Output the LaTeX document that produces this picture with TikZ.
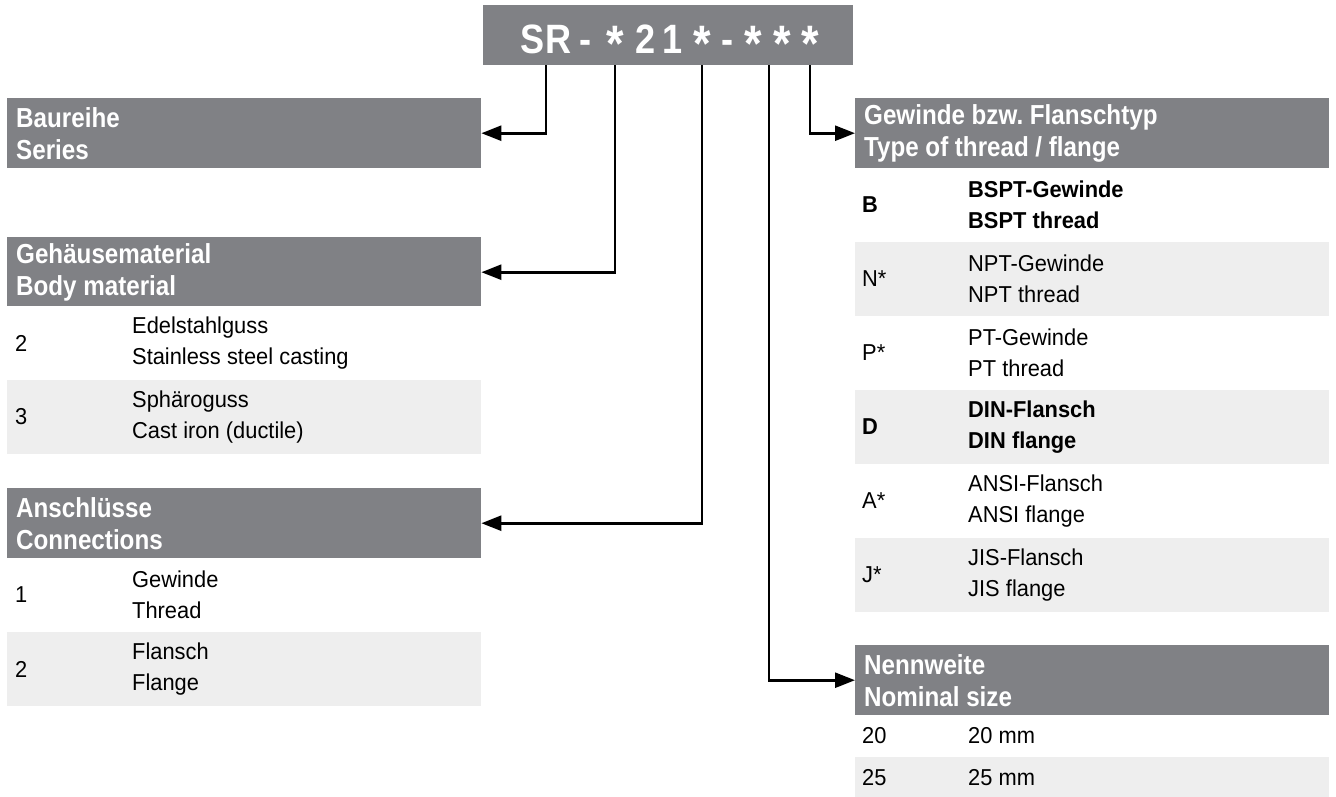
\documentclass[tikz,border=0pt]{standalone}
\usepackage{fontspec}
\setmainfont{Liberation Sans}[FakeStretch=0.95]
\newfontfamily\hdfamily{Liberation Sans}[FakeStretch=0.88]
\usepackage{tikz}
\usepackage{xcolor}
\usetikzlibrary{arrows.meta}
\definecolor{hdgray}{RGB}{128,129,133}
\definecolor{rowgray}{RGB}{238,238,238}
\newcommand{\bodysize}{\fontsize{23}{31}\selectfont}
\newcommand{\hdsize}{\hdfamily\bfseries\fontsize{27.5}{32}\selectfont}
\newcommand{\codesize}{\hdfamily\bfseries\fontsize{41}{41}\selectfont}
\newcommand{\cstar}{\raisebox{-8pt}{\scalebox{1.25}{*}}}
\newcommand{\tightsp}{\spaceskip=0.24em\xspaceskip=0.24em\relax}
\newcommand{\bodysp}{\spaceskip=0.27em\xspaceskip=0.27em\relax}
\tikzset{
  hdbox/.style={rectangle, fill=hdgray, text=white, anchor=north west, minimum width=474pt, minimum height=70pt, text width=456pt, inner xsep=9pt, inner ysep=0pt, align=left, font=\hdsize, execute at begin node=\tightsp},
  codechar/.style={anchor=base, inner sep=0pt, text=white, font=\codesize},
  num/.style={anchor=west, inner sep=0pt, font=\bodysize},
  desc/.style={anchor=west, inner sep=0pt, align=left, font=\bodysize, execute at begin node=\bodysp},
  bf/.style={font=\bodysize\bfseries},
  nf/.style={},
  arr/.style={line width=2.6pt, -{Triangle[length=20pt,width=15pt]}}
}

\begin{document}
\begin{tikzpicture}[x=1pt,y=-1pt]
\useasboundingbox (0,0) rectangle (1336,796);

\node[rectangle, fill=hdgray, anchor=north west, minimum width=370pt, minimum height=60pt, inner sep=0pt] (code) at (483,5) {};
\foreach \x/\c [count=\i] in {546/SR, 586/-, 615/\cstar, 646/2, 673/1, 702/\cstar, 727/-, 753/\cstar, 782/\cstar, 810/\cstar}
  \node[codechar] (k\i) at (\x,53) {\c};
\coordinate (c4) at (769,65);

\node[hdbox] (series) at (7,98) {Baureihe\\Series};
\node[hdbox] (body) at (7,237) {Gehäusematerial\\Body material};
\node[hdbox] (conn) at (7,488) {Anschlüsse\\Connections};
\node[hdbox] (thread) at (855,98) {Gewinde bzw. Flanschtyp\\Type of thread / flange};
\node[hdbox] (size) at (855,645) {Nennweite\\Nominal size};

\foreach \y/\n/\a/\b/\c in {306/2/Edelstahlguss/Stainless steel casting/white, 380/3/Sphäroguss/Cast iron (ductile)/rowgray}{
  \fill[\c] (7,\y) rectangle (481,\y+73.5);
  \node[num] (matn\n) at (15,\y+37) {\n};
  \node[desc] (matd\n) at (132,\y+37) {\a\\\b};
}
\foreach \y/\n/\a/\b/\c in {558/1/Gewinde/Thread/white, 632/2/Flansch/Flange/rowgray}{
  \fill[\c] (7,\y) rectangle (481,\y+73.5);
  \node[num] (conn\n) at (15,\y+37) {\n};
  \node[desc] (connd\n) at (132,\y+37) {\a\\\b};
}
\foreach \y/\n/\a/\b/\c/\w [count=\i] in {168/B/BSPT-Gewinde/BSPT thread/white/bf, 242/N*/NPT-Gewinde/NPT thread/rowgray/nf, 316/P*/PT-Gewinde/PT thread/white/nf, 390/D/DIN-Flansch/DIN flange/rowgray/bf, 464/A*/ANSI-Flansch/ANSI flange/white/nf, 538/J*/JIS-Flansch/JIS flange/rowgray/nf}{
  \fill[\c] (855,\y) rectangle (1329,\y+73.5);
  \node[num,\w] (thn\i) at (862,\y+37) {\n};
  \node[desc,\w] (thd\i) at (968,\y+37) {\a\\\b};
}
\foreach \y/\n/\c in {715/20/white, 757/25/rowgray}{
  \fill[\c] (855,\y) rectangle (1329,\y+42);
  \node[num] (dn\n) at (862,\y+21) {\n};
  \node[num] (dnd\n) at (968,\y+21) {\n\ mm};
}

\draw[arr] (k1.base |- code.south) |- (series.east);
\draw[arr] (k3.base |- code.south) |- (body.east);
\draw[arr] (k6.base |- code.south) |- (conn.east);
\draw[arr] (c4) |- (size.west);
\draw[arr] (k10.base |- code.south) |- (thread.west);
\end{tikzpicture}
\end{document}
